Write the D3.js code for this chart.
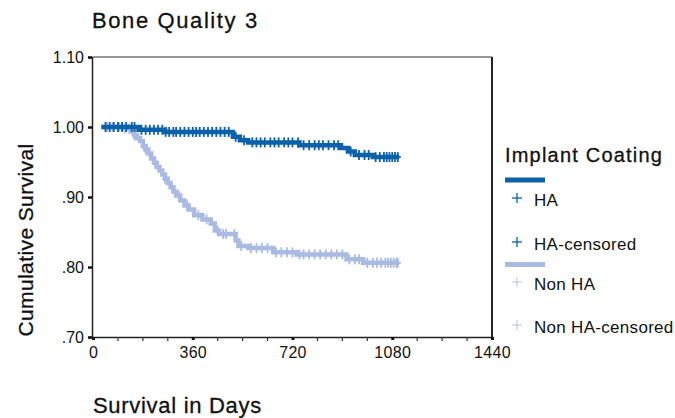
<!DOCTYPE html>
<html>
<head>
<meta charset="utf-8">
<script src="https://cdn.jsdelivr.net/npm/d3@7"></script>
<style>
body { margin: 0; background: #fff; }
text { font-family: "Liberation Sans", Arial, sans-serif; fill: #111; }
</style>
</head>
<body>
<div id="chart"></div>
<script>
// Kaplan-Meier steps: [day, cumulative survival]
haSteps = [[30, 1.000], [165, 0.996], [260, 0.993], [505, 0.986], [530, 0.981], [560, 0.978],
    [745, 0.974], [895, 0.970], [920, 0.965], [945, 0.960], [1010, 0.957], [1105, 0.957]];
nonHaSteps = [[30, 1.000], [110, 0.998], [140, 0.993], [150, 0.988], [160, 0.984], [170, 0.980],
    [180, 0.973], [190, 0.968], [200, 0.962], [210, 0.955], [220, 0.949], [230, 0.943],
    [240, 0.938], [250, 0.932], [260, 0.926], [270, 0.920], [280, 0.914], [290, 0.908],
    [300, 0.902], [315, 0.895], [330, 0.888], [345, 0.882], [365, 0.874], [395, 0.868],
    [425, 0.862], [440, 0.852], [455, 0.847], [515, 0.838], [525, 0.830], [560, 0.827],
    [650, 0.821], [735, 0.818], [915, 0.811], [975, 0.806], [1105, 0.806]];

// censored cases (days)
haCensor = [45, 60, 75, 90, 105, 120, 140, 150, 175, 190, 205, 220, 235, 250, 262, 275, 290, 300,
    315, 330, 345, 360, 372, 385, 400, 415, 430, 445, 460, 475, 490, 515, 545, 575, 590, 605,
    620, 640, 655, 670, 690, 705, 720, 740, 760, 780, 800, 815, 830, 850, 870, 885, 930, 960,
    980, 995, 1020, 1035, 1050, 1060, 1070, 1080, 1090, 1100];
nonHaCensor = [50, 70, 95, 115, 130, 150, 190, 225, 260, 310, 340, 380, 410, 450, 470, 480, 510,
    535, 570, 590, 610, 630, 660, 680, 700, 720, 745, 760, 780, 800, 820, 840, 860, 880, 900,
    925, 945, 960, 990, 1010, 1025, 1040, 1055, 1065, 1075, 1085, 1095, 1100];

xTicks = [0, 360, 720, 1080, 1440];
xMinor = [90, 180, 270, 450, 540, 630, 810, 900, 990, 1170, 1260, 1350];
yTicks = [0.70, 0.80, 0.90, 1.00, 1.10];
yTickLabels = [".70", ".80", ".90", "1.00", "1.10"];
legendItems = ["HA", "HA-censored", "Non HA", "Non HA-censored"];

darkBlue = "#0b61aa";
lightBlue = "#a9bbe2";

width = 675;
height = 418;
plot = {left: 93, right: 492, top: 57, bottom: 337};

svg = d3.select("#chart").append("svg")
    .attr("width", width)
    .attr("height", height);

xScale = d3.scaleLinear().domain([0, 1440]).range([plot.left, plot.right]);
yScale = d3.scaleLinear().domain([0.70, 1.10]).range([plot.bottom, plot.top]);

/* frame: top and right */
svg.append("line")
    .attr("x1", plot.left).attr("x2", plot.right)
    .attr("y1", plot.top).attr("y2", plot.top)
    .attr("stroke", "#333").attr("stroke-width", 1);
svg.append("line")
    .attr("x1", plot.right).attr("x2", plot.right)
    .attr("y1", plot.top).attr("y2", plot.bottom)
    .attr("stroke", "#222").attr("stroke-width", 2);

/* x axis */
xAxis = d3.axisBottom(xScale).tickValues(xTicks).tickSize(3).tickPadding(7)
    .tickFormat(d3.format("d"));
gx = svg.append("g")
    .attr("transform", `translate(0, ${plot.bottom})`)
    .call(xAxis);
gx.select(".domain").attr("stroke", "#222").attr("stroke-width", 1.5);
gx.selectAll(".tick line").attr("stroke", "#111").attr("stroke-width", 3);
gx.selectAll(".tick text")
    .style("font-size", "16px")
    .style("letter-spacing", "0.3px")
    .attr("fill", "#111");

gx.selectAll(".minor")
    .data(xMinor).enter()
    .append("line")
    .attr("class", "minor")
    .attr("x1", d => xScale(d)).attr("x2", d => xScale(d))
    .attr("y1", 0).attr("y2", 4)
    .attr("stroke", "#333").attr("stroke-width", 1.2);

/* y axis */
yAxis = d3.axisLeft(yScale).tickValues(yTicks).tickSize(4).tickPadding(4)
    .tickFormat((d, i) => yTickLabels[i]);
gy = svg.append("g")
    .attr("transform", `translate(${plot.left - 1}, 0)`)
    .call(yAxis);
gy.select(".domain").attr("stroke", "#222").attr("stroke-width", 1.5);
gy.selectAll(".tick line").attr("stroke", "#111").attr("stroke-width", 2.5);
gy.selectAll(".tick text")
    .style("font-size", "16px")
    .attr("fill", "#111");

/* step curves */
line = d3.line()
    .x(d => xScale(d[0]))
    .y(d => yScale(d[1]))
    .curve(d3.curveStepAfter);

function survAt(steps, day) {
    var s = steps[0][1];
    steps.forEach(function (p) {
        if (p[0] <= day) s = p[1];
    });
    return s;
}

function drawGroup(steps, censor, color) {
    svg.append("path")
        .attr("d", line(steps))
        .attr("fill", "none")
        .attr("stroke", color)
        .attr("stroke-width", 4.5);

    g = svg.append("g").attr("stroke", color).attr("stroke-width", 1.8);
    g.selectAll("line.v")
        .data(censor).enter()
        .append("line")
        .attr("x1", d => xScale(d)).attr("x2", d => xScale(d))
        .attr("y1", d => yScale(survAt(steps, d)) - 5)
        .attr("y2", d => yScale(survAt(steps, d)) + 5);
    g.selectAll("line.h")
        .data(censor).enter()
        .append("line")
        .attr("x1", d => xScale(d) - 3).attr("x2", d => xScale(d) + 3)
        .attr("y1", d => yScale(survAt(steps, d)))
        .attr("y2", d => yScale(survAt(steps, d)));
}

drawGroup(nonHaSteps, nonHaCensor, lightBlue);
drawGroup(haSteps, haCensor, darkBlue);

/* titles */
svg.append("text")
    .attr("x", 92).attr("y", 28)
    .style("font-size", "22px")
    .style("letter-spacing", "1.6px")
    .style("stroke", "#111").style("stroke-width", "0.3px")
    .text("Bone Quality 3");

svg.append("text")
    .attr("transform", "translate(33, 240) rotate(-90)")
    .attr("text-anchor", "middle")
    .style("font-size", "21px")
    .style("letter-spacing", "0.4px")
    .style("stroke", "#111").style("stroke-width", "0.3px")
    .text("Cumulative Survival");

svg.append("text")
    .attr("x", 93).attr("y", 413)
    .style("font-size", "22px")
    .style("letter-spacing", "0.7px")
    .style("stroke", "#111").style("stroke-width", "0.3px")
    .text("Survival in Days");

/* legend */
legend = svg.append("g");
legend.append("text")
    .attr("x", 505).attr("y", 162)
    .style("font-size", "20px")
    .style("letter-spacing", "1.2px")
    .style("stroke", "#111").style("stroke-width", "0.3px")
    .text("Implant Coating");

legendColors = [darkBlue, darkBlue, lightBlue, lightBlue];
legendY = [198, 242, 282, 325];
swatchY = [180, 264.5];

legend.selectAll(".swatch")
    .data(swatchY).enter()
    .append("line")
    .attr("x1", 505).attr("x2", 545)
    .attr("y1", d => d).attr("y2", d => d)
    .attr("stroke", (d, i) => i == 0 ? darkBlue : lightBlue)
    .attr("stroke-width", 5);

items = legend.selectAll(".item")
    .data(legendItems).enter()
    .append("g")
    .attr("transform", (d, i) => `translate(517, ${legendY[i]})`);
items.append("line")
    .attr("x1", 0).attr("x2", 0).attr("y1", -5).attr("y2", 5)
    .attr("stroke", (d, i) => legendColors[i])
    .attr("stroke-width", (d, i) => i < 2 ? 1.3 : 0.9);
items.append("line")
    .attr("x1", -5).attr("x2", 5).attr("y1", 0).attr("y2", 0)
    .attr("stroke", (d, i) => legendColors[i])
    .attr("stroke-width", (d, i) => i < 2 ? 1.3 : 0.9);
items.append("text")
    .attr("x", 17).attr("y", 8)
    .style("font-size", "17px")
    .style("letter-spacing", "0.3px")
    .text(d => d);
</script>
</body>
</html>
